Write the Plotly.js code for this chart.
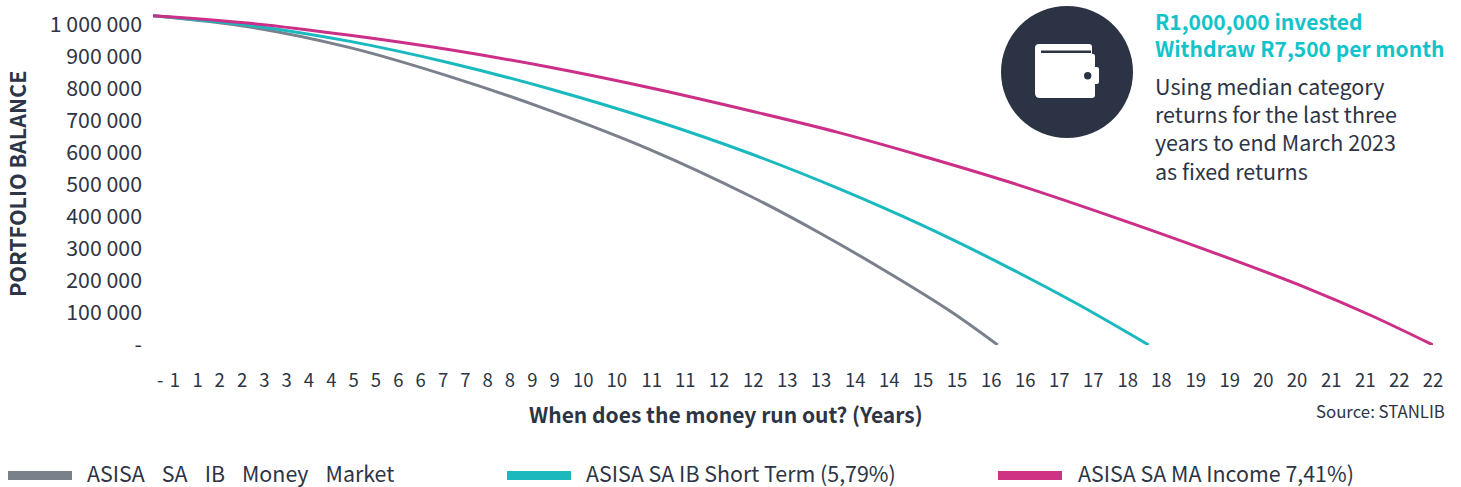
<!DOCTYPE html>
<html>
<head>
<meta charset="utf-8">
<script src="https://cdn.plot.ly/plotly-3.0.1.min.js"></script>
<style>html,body{margin:0;padding:0;background:#fff}#chart{width:1461px;height:487px}</style>
</head>
<body>
<div id="chart"></div>
<script>
// Series (x in axis units, y in rand)
const moneyMarketYears = [0, 1.667, 3.386, 5.105, 6.824, 8.542, 10.261, 11.413, 12.547, 13.699, 14.519];
const moneyMarketValues = [1029000, 993750, 929375, 838750, 732500, 610625, 465625, 354688, 235938, 106250, 0];
const shortTermYears = [0, 1.667, 3.386, 5.105, 6.824, 8.542, 10.261, 11.757, 13.235, 14.73, 15.882, 17.114];
const shortTermValues = [1029000, 998750, 948750, 881250, 800000, 706250, 598438, 490938, 372813, 239688, 128750, 0];
const incomeYears = [0, 1.667, 3.386, 5.105, 6.824, 8.542, 10.261, 11.757, 13.235, 14.73, 16.449, 18.168, 19.887, 20.936, 22];
const incomeValues = [1029000, 1005313, 967813, 922500, 867813, 803750, 731875, 665313, 590000, 508438, 403750, 292813, 174063, 92188, 0];

// Axis labels
const yTickVals = [0, 100000, 200000, 300000, 400000, 500000, 600000, 700000, 800000, 900000, 1000000];
const yTickText = ['-', '100 000', '200 000', '300 000', '400 000', '500 000', '600 000', '700 000', '800 000', '900 000', '1 000 000'];
const xTickVals = [0.125, 0.378, 0.768, 1.146, 1.530, 1.913, 2.298, 2.681, 3.065, 3.450, 3.833, 4.216, 4.601, 4.985, 5.368, 5.753, 6.136, 6.519, 6.904, 7.396, 7.970, 8.572, 9.149, 9.728, 10.318, 10.902, 11.481, 12.071, 12.655, 13.235, 13.819, 14.409, 14.993, 15.578, 16.162, 16.753, 17.331, 17.922, 18.506, 19.084, 19.663, 20.253, 20.838, 21.422, 22];
const xTickText = ['-', '1', '1', '2', '2', '3', '3', '4', '4', '5', '5', '6', '6', '7', '7', '8', '8', '9', '9', '10', '10', '11', '11', '12', '12', '13', '13', '14', '14', '15', '15', '16', '16', '17', '17', '18', '18', '19', '19', '20', '20', '21', '21', '22', '22'];

const WIDE = '\u00a0\u00a0\u00a0\u200a\u200a';
const seriesNames = ['ASISA' + WIDE + 'SA' + WIDE + 'IB' + WIDE + 'Money' + WIDE + 'Market', 'ASISA SA IB Short Term (5,79%)', 'ASISA SA MA Income 7,41%)'];
const seriesColors = ['#7a818c', '#1ab9c0', '#cc2f87'];
const headerLines = ['R1,000,000 invested', 'Withdraw R7,500 per month'];
const bodyLines = ['Using median category', 'returns for the last three', 'years to end March 2023', 'as fixed returns'];

const FONT = '"Noto Sans CJK SC","Noto Sans",sans-serif';
const INK = '#2d3445';
const W = 1461, H = 487, L = 153, R = 1433, T = 5, B = 345;
const px = x => (x - L) / (R - L);
const py = y => (B - y) / (B - T);

function line(x, y, i) {
  return {x, y, type: 'scatter', mode: 'lines', name: seriesNames[i], showlegend: false, cliponaxis: false,
    line: {color: seriesColors[i], width: 3, shape: 'spline', smoothing: 1}, hoverinfo: 'skip'};
}
const traces = [
  line(moneyMarketYears, moneyMarketValues, 0),
  line(shortTermYears, shortTermValues, 1),
  line(incomeYears, incomeValues, 2)
];

function note(text, x, y, size, opts) {
  return Object.assign({text, x: px(x), y: py(y), xref: 'paper', yref: 'paper', showarrow: false,
    xanchor: 'left', yanchor: 'middle', align: 'left', font: {family: FONT, size, color: INK}}, opts || {});
}
const annotations = [
  note('<b>PORTFOLIO BALANCE</b>', 16, 184, 21.5, {xanchor: 'center', textangle: -90}),
  note('<b>When does the money run out? (Years)</b>', 726, 414, 21, {xanchor: 'center'}),
  note('Source: STANLIB', 1447, 410.5, 16.8, {xanchor: 'right'}),
  note(seriesNames[0], 85, 472, 21.4),
  note(seriesNames[1], 584, 472, 21.4),
  note(seriesNames[2], 1076, 472, 21.4),
  note('<b>' + headerLines.join('<br>') + '</b>', 1153, 34, 21, {font: {family: FONT, size: 21, color: '#12c3c9'}})
];
bodyLines.forEach((t, i) => annotations.push(note(t, 1153, 85 + i * 28.4, 21.5)));

function rect(x0, y0, x1, y1, color) {
  return {type: 'rect', xref: 'paper', yref: 'paper', x0: px(x0), x1: px(x1), y0: py(y0), y1: py(y1), fillcolor: color, line: {width: 0}};
}
function circle(cx, cy, r, color) {
  return {type: 'circle', xref: 'paper', yref: 'paper', x0: px(cx - r), x1: px(cx + r), y0: py(cy - r), y1: py(cy + r), fillcolor: color, line: {width: 0}};
}
const P = (cmd, ...pts) => {
  let s = cmd;
  for (let i = 0; i < pts.length; i += 2) s += (i ? ' ' : '') + px(pts[i]).toFixed(6) + ',' + py(pts[i + 1]).toFixed(6);
  return s;
};
const walletPath = [
  P('M', 1039, 44), P('L', 1089, 44), P('Q', 1092, 44, 1092, 47), P('L', 1092, 54), P('L', 1093, 54),
  P('Q', 1095, 54, 1095, 56), P('L', 1095, 67), P('L', 1097, 67), P('Q', 1099, 67, 1099, 69),
  P('L', 1099, 82), P('Q', 1099, 84, 1097, 84), P('L', 1095, 84), P('L', 1095, 95), P('Q', 1095, 98, 1092, 98),
  P('L', 1040, 98), P('Q', 1035, 98, 1035, 93), P('L', 1035, 48), P('Q', 1035, 44, 1039, 44), 'Z'
].join(' ');
const shapes = [
  rect(8, 471, 72, 480, '#7a8089'),
  rect(507, 471, 571, 480, '#1bb8bd'),
  rect(998, 471, 1062, 480, '#d03283'),
  circle(1067, 72, 66, '#2c3344'),
  {type: 'path', xref: 'paper', yref: 'paper', path: walletPath, fillcolor: '#ffffff', line: {width: 0}},
  rect(1041, 50.5, 1091, 53, '#2c3344'),
  circle(1087.7, 75.7, 3.7, '#2c3344')
];

const layout = {
  width: W, height: H, autosize: false,
  margin: {l: L, r: W - R, t: T, b: H - B, pad: 0},
  paper_bgcolor: '#fff', plot_bgcolor: '#fff',
  showlegend: false,
  font: {family: FONT, color: INK},
  xaxis: {range: [0, 22], tickmode: 'array', tickvals: xTickVals, ticktext: xTickText, ticks: '', tickangle: 0,
    showgrid: false, zeroline: false, showline: false, ticklabelstandoff: 22, automargin: false,
    tickfont: {family: FONT, size: 18.5, color: INK}},
  yaxis: {range: [0, 1062500], tickmode: 'array', tickvals: yTickVals, ticktext: yTickText, ticks: '',
    showgrid: false, zeroline: false, showline: false, ticklabelstandoff: 10, ticklabelshift: 1.5, automargin: false,
    tickfont: {family: FONT, size: 21.3, color: INK}},
  annotations, shapes
};
Plotly.newPlot('chart', traces, layout, {displayModeBar: false, staticPlot: true});
</script>
</body>
</html>
